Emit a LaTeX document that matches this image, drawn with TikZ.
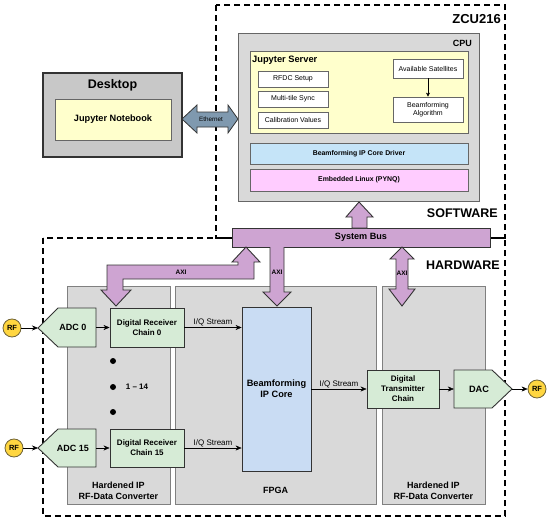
\documentclass[tikz,border=0pt]{standalone}
\usepackage{fontspec}
\setmainfont{Liberation Sans}
\usetikzlibrary{positioning,arrows.meta}
\definecolor{deskgray}{RGB}{200,200,200}
\definecolor{panelgray}{RGB}{217,217,217}
\definecolor{jupyellow}{RGB}{255,255,204}
\definecolor{driverblue}{RGB}{197,228,248}
\definecolor{linuxpink}{RGB}{255,204,255}
\definecolor{buspurple}{RGB}{206,164,210}
\definecolor{convgreen}{RGB}{214,235,214}
\definecolor{coreblue}{RGB}{201,220,243}
\definecolor{rfyellow}{RGB}{255,214,64}
\definecolor{ethblue}{RGB}{127,153,175}
\definecolor{edge}{RGB}{51,51,51}

\begin{document}
\begin{tikzpicture}[x=1pt, y=-1pt, >={Stealth[length=6pt,width=5pt]},
  dashbox/.style={draw=black, line width=1.6pt, dash pattern=on 6pt off 4pt},
  panel/.style={draw=gray, fill=panelgray, line width=0.8pt, inner sep=0pt},
  box/.style={draw=gray!80!black, line width=0.8pt, inner sep=0pt, align=center},
  smallbox/.style={box, fill=white, font=\fontsize{7}{8.5}\selectfont},
  conv/.style={draw=edge, fill=convgreen, line width=0.9pt},
  greenbox/.style={conv, inner sep=0pt, align=center, font=\bfseries\fontsize{8}{10}\selectfont},
  fat/.style={draw=edge, fill=buspurple, line width=0.9pt},
  rf/.style={circle, draw=edge!70!rfyellow, fill=rfyellow, line width=0.8pt, minimum size=18, inner sep=0pt, font=\bfseries\fontsize{7.5}{8}\selectfont},
  title/.style={font=\bfseries\fontsize{12.5}{14}\selectfont, inner sep=0pt},
  lbl/.style={font=\fontsize{8}{9}\selectfont, inner sep=1pt},
  axi/.style={font=\bfseries\fontsize{6.5}{7}\selectfont, inner sep=0pt}]
  \useasboundingbox (0,0) rectangle (550,522);

  % software / hardware borders
  \draw[dashbox] (216,5) rectangle (505,238);
  \draw[dashbox] (43,238) rectangle (505,516);
  \node[title, anchor=east, font=\bfseries\fontsize{13}{14}\selectfont] (zcu) at (501,19) {ZCU216};
  \node[title, anchor=east] (sw) at (498,213) {SOFTWARE};
  \node[title, anchor=east] (hw) at (500,265) {HARDWARE};

  % desktop
  \node (desk) [draw=edge, line width=1.3pt, fill=deskgray, minimum width=139, minimum height=84] at (112.5,115) {};
  \node[title] (desklbl) at (112.5,85) {Desktop};
  \node (nb) [box, fill=jupyellow, minimum width=116, minimum height=41, font=\bfseries\fontsize{9.2}{11}\selectfont] at (113,119.5) {Jupyter Notebook};

  % ethernet
  \draw[draw=edge, fill=ethblue, line width=0.8pt] (182,119) -- (197,105) -- (197,112) -- (228,112) -- (228,105) -- (238,119)
    -- (228,133) -- (228,127) -- (197,127) -- (197,133) -- cycle;
  \node[font=\fontsize{6.3}{7}\selectfont, inner sep=0pt] (eth) at (211,119) {Ethernet};

  % cpu
  \node (cpu) [box, fill=panelgray, minimum width=241, minimum height=168] at (358.5,117) {};
  \node[anchor=east, inner sep=0pt, font=\bfseries\fontsize{9}{10}\selectfont] (cpulbl) at (472,43) {CPU};
  \node (jsrv) [box, fill=jupyellow, minimum width=218, minimum height=82] at (359,92) {};
  \node[anchor=west, inner sep=0pt, font=\bfseries\fontsize{9.3}{10}\selectfont] (jsrvlbl) at (252,60) {Jupyter Server};
  \node (rfdc) [smallbox, minimum width=70, minimum height=16] at (293,79) {RFDC Setup};
  \node (sync) [smallbox, minimum width=70, minimum height=16] at (293,99) {Multi-tile Sync};
  \node (calib) [smallbox, minimum width=70, minimum height=16] at (293,120) {Calibration Values};
  \node (sats) [smallbox, minimum width=70, minimum height=19] at (428,68.5) {Available Satellites};
  \node (alg) [smallbox, minimum width=70, minimum height=25] at (428,109.5) {Beamforming\\Algorithm};
  \draw[->, >={Stealth[length=4pt,width=4pt]}] (sats) -- (alg);
  \node (drv) [box, fill=driverblue, minimum width=218, minimum height=21, font=\bfseries\fontsize{6.9}{8}\selectfont] at (359,153.5) {Beamforming IP Core Driver};
  \node (linux) [box, fill=linuxpink, minimum width=218, minimum height=22, font=\bfseries\fontsize{6.9}{8}\selectfont] at (359,180) {Embedded Linux (PYNQ)};

  % hardware panels
  \node (rfdcl) [panel, minimum width=103, minimum height=218] at (118.5,395) {};
  \node (fpga) [panel, minimum width=201, minimum height=218] at (275.5,395) {};
  \node (rfdcr) [panel, minimum width=103, minimum height=218] at (433.5,395) {};
  \node[align=center, inner sep=0pt, font=\bfseries\fontsize{9}{11}\selectfont] at (118.5,490.5) {Hardened IP\\RF-Data Converter};
  \node[align=center, inner sep=0pt, font=\bfseries\fontsize{9}{11}\selectfont] at (433.5,490.5) {Hardened IP\\RF-Data Converter};
  \node[inner sep=0pt, font=\bfseries\fontsize{9}{11}\selectfont] at (275.5,490) {FPGA};

  % system bus and axi links
  \node (bus) [fat, minimum width=258, minimum height=19, inner sep=0pt, font=\bfseries\fontsize{9.1}{10}\selectfont] at (361,237.5) {System Bus};
  \draw[fat] (359,202) -- (373,217) -- (367,217) -- (367,228) -- (352,228) -- (352,217) -- (346,217) -- cycle;
  \draw[fat] (246,247) -- (260,262) -- (254,262) -- (254,279) -- (123,279) -- (123,290) -- (131,290) -- (116,306)
    -- (101,290) -- (107,290) -- (107,265) -- (238,265) -- (238,262) -- (232,262) -- cycle;
  \draw[fat] (270,247) -- (270,292) -- (263,292) -- (277,306) -- (291,292) -- (284,292) -- (284,247);
  \draw[fat] (402,247) -- (414,259) -- (408,259) -- (408,289) -- (415,289) -- (402,306) -- (389,289) -- (396,289)
    -- (396,259) -- (390,259) -- cycle;
  \node[axi] at (181,272) {AXI};
  \node[axi] at (277,272) {AXI};
  \node[axi] at (402,273) {AXI};

  % receive side
  \draw[conv] (38,328) -- (58,308) -- (96,308) -- (96,347) -- (58,347) -- cycle;
  \coordinate (adc0tip) at (38,328);
  \node (adc0) [inner sep=0pt, minimum width=46, minimum height=39, font=\bfseries\fontsize{9}{10}\selectfont] at (73,327.5) {ADC 0};
  \draw[conv] (38,448) -- (58,429) -- (96,429) -- (96,467) -- (58,467) -- cycle;
  \coordinate (adc15tip) at (38,448);
  \node (adc15) [inner sep=0pt, minimum width=46, minimum height=38, font=\bfseries\fontsize{9}{10}\selectfont] at (73,448) {ADC 15};
  \node (drc0) [greenbox, minimum width=74, minimum height=39] at (147,327.5) {Digital Receiver\\Chain 0};
  \node (drc15) [greenbox, minimum width=74, minimum height=38] at (147,448) {Digital Receiver\\Chain 15};
  \node (rf0) [rf] at (12,328) {RF};
  \node (rf15) [rf] at (14,448) {RF};
  \foreach \y in {361,387,412}
    \fill (113,\y) circle (3);
  \node[inner sep=0pt, font=\bfseries\fontsize{8}{9}\selectfont] (rng) at (137,387) {1 -- 14};

  % beamformer and transmit side
  \node (core) [box, draw=edge, fill=coreblue, minimum width=69, minimum height=164, font=\bfseries\fontsize{9.2}{11}\selectfont] at (276.5,389) {Beamforming\\IP Core};
  \node (dtc) [greenbox, minimum width=72, minimum height=38] at (403,389) {Digital\\Transmitter\\Chain};
  \draw[conv] (454,370) -- (492,370) -- (512,389) -- (492,408) -- (454,408) -- cycle;
  \coordinate (dactip) at (512,389);
  \node (dac) [inner sep=0pt, minimum width=50, minimum height=38, font=\bfseries\fontsize{9.2}{10}\selectfont] at (479,389) {DAC};
  \node (rfout) [rf] at (537,389) {RF};

  \draw[->] (rf0) -- (adc0tip);
  \draw[->] (rf15) -- (adc15tip);
  \draw[->] (adc0) -- (drc0);
  \draw[->] (adc15) -- (drc15);
  \draw[->] (drc0) -- (drc0 -| core.west) node[lbl, midway, above] {I/Q Stream};
  \draw[->] (drc15) -- (drc15 -| core.west) node[lbl, midway, above] {I/Q Stream};
  \draw[->] (core.east |- dtc) -- (dtc) node[lbl, midway, above] {I/Q Stream};
  \draw[->] (dtc) -- (dac);
  \draw[->] (dactip) -- (rfout);
\end{tikzpicture}
\end{document}
